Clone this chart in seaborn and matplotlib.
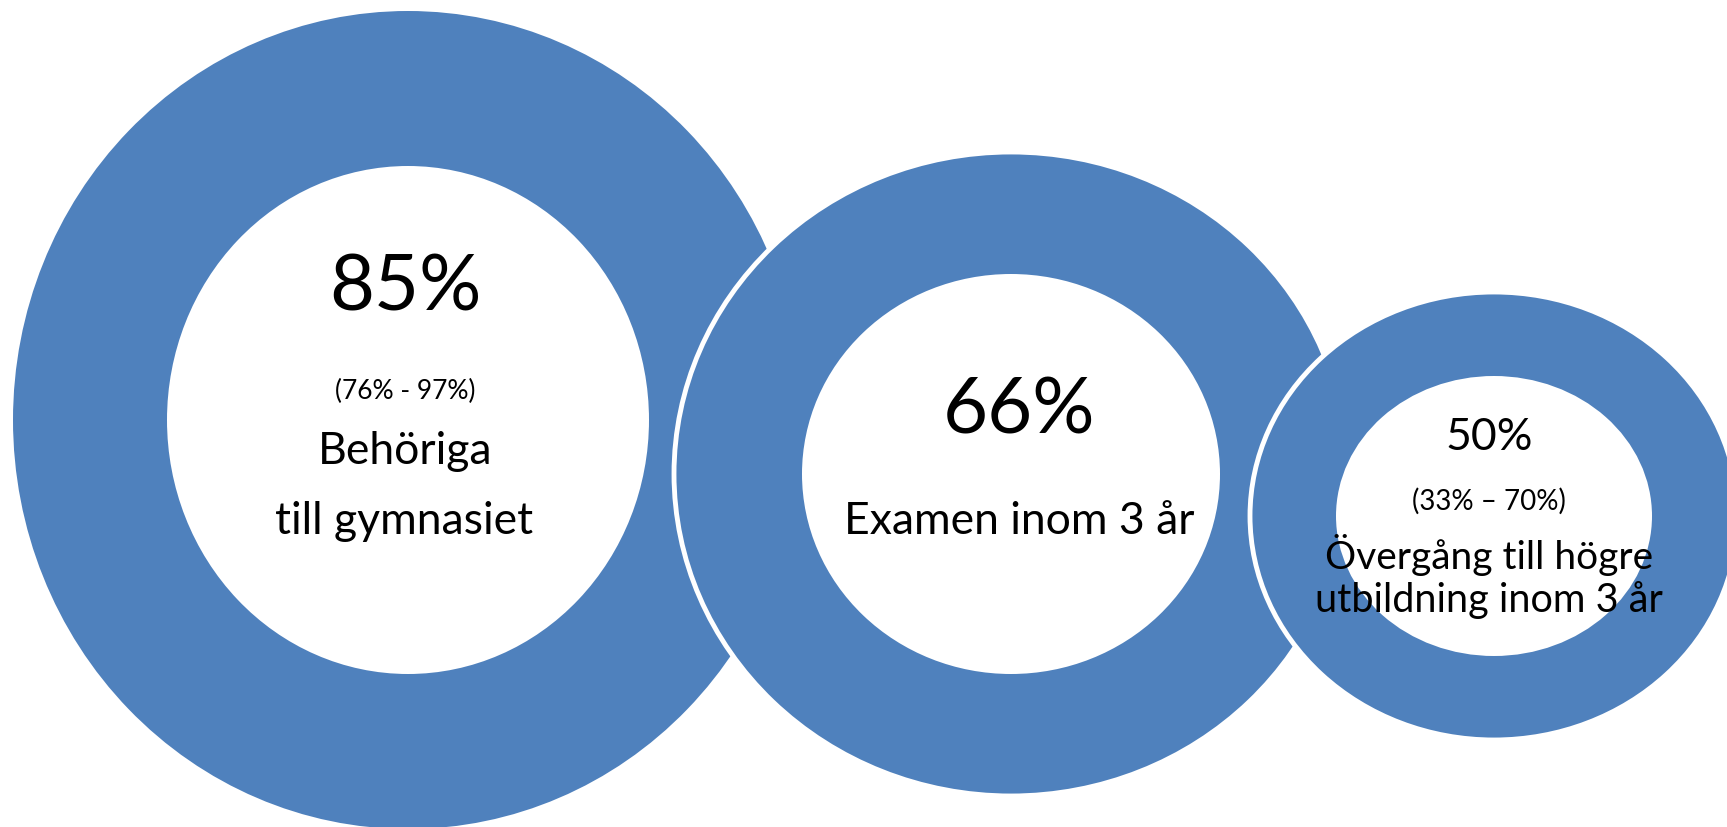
import matplotlib
matplotlib.use("Agg")
import matplotlib.pyplot as plt
from matplotlib.patches import Ellipse
import seaborn as sns

# ---- data ----
values = [85, 66, 50]
ranges = ["(76% - 97%)", "", "(33% \u2013 70%)"]
labels = [["Beh\u00f6riga", "till gymnasiet"],
          ["Examen inom 3 \u00e5r"],
          ["\u00d6verg\u00e5ng till h\u00f6gre", "utbildning inom 3 \u00e5r"]]

# ---- layout (pixels) ----
centers = [(408, 420), (1011, 474), (1494, 516)]
outer_r = [(395, 409), (337, 322), (244, 224)]
inner_r = [(241, 254), (209, 200), (158, 140)]
BLUE = "#4F81BD"

sns.set_theme(style="white")
plt.rcParams["font.family"] = ["Lato", "DejaVu Sans"]

fig = plt.figure(figsize=(17.27, 8.27), dpi=100)
ax = fig.add_axes([0, 0, 1, 1])
ax.set_xlim(0, 1727)
ax.set_ylim(827, 0)
ax.axis("off")

for i, (c, ro, ri) in enumerate(zip(centers, outer_r, inner_r)):
    z = 2 + i * 2
    ax.add_patch(Ellipse(c, 2 * ro[0], 2 * ro[1], facecolor=BLUE,
                         edgecolor="white", linewidth=3.5 if i > 0 else 0, zorder=z))
    ax.add_patch(Ellipse(c, 2 * ri[0], 2 * ri[1], facecolor="white",
                         edgecolor="none", zorder=z + 1))

# text
t = dict(ha="center", va="center", color="black", zorder=20)
# donut 1
ax.text(405, 289, f"{values[0]}%", fontsize=56, **t)
ax.text(405, 391, ranges[0], fontsize=19, **t)
ax.text(405, 451, labels[0][0], fontsize=32, **t)
ax.text(404, 522, labels[0][1], fontsize=32, **t)
# donut 2
ax.text(1019, 412, f"{values[1]}%", fontsize=56, **t)
ax.text(1019, 522, labels[1][0], fontsize=32, **t)
# donut 3
ax.text(1489, 437, f"{values[2]}%", fontsize=32, **t)
ax.text(1489, 501, ranges[2], fontsize=20, **t)
ax.text(1489, 555, labels[2][0], fontsize=28, **t)
ax.text(1489, 600, labels[2][1], fontsize=28.5, **t)

fig.savefig("out.png", dpi=100, facecolor="white")
